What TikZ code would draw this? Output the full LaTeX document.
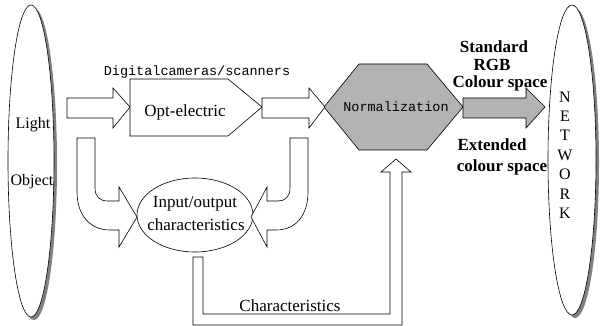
\documentclass[tikz,border=0pt]{standalone}
\usepackage{fontspec}
\setmainfont{Liberation Serif}
\setmonofont{Liberation Mono}
\definecolor{boxgray}{HTML}{B3B3B3}
\definecolor{shadowgray}{HTML}{808080}
\tikzset{
  shapeline/.style={draw=black, line width=0.6pt, line join=miter},
  hollow/.style={shapeline, fill=white},
  grayfill/.style={shapeline, fill=boxgray},
  lbl/.style={inner sep=0pt, font=\fontsize{17}{19}\selectfont},
  sidelbl/.style={inner sep=0pt, font=\fontsize{16}{18}\selectfont},
  monolbl/.style={inner sep=0pt, font=\ttfamily\fontsize{13.5}{15}\selectfont},
  boldlbl/.style={inner sep=0pt, font=\bfseries\fontsize{17}{18}\selectfont},
}
\begin{document}
\begin{tikzpicture}[x=1pt,y=-1pt]
\useasboundingbox (0,0) rectangle (605,326);
% left ellipse (Light / Object)
\fill[shadowgray] (34,164) ellipse (23 and 156);
\draw[hollow] (31,161) ellipse (23 and 156);
\node[sidelbl] (light) at (33,125) {Light};
\node[sidelbl] (object) at (32,182) {Object};
% right ellipse (NETWORK)
\fill[shadowgray] (575,163) ellipse (24 and 155);
\draw[hollow] (572,160) ellipse (24 and 155);
\node[lbl, align=center, font=\fontsize{16}{19.4}\selectfont] (network) at (565,155) {N\\E\\T\\W\\O\\R\\K};
% arrow light -> opt-electric
\draw[hollow] (67,98) -- (113,98) -- (113,88) -- (130,107) -- (113,128) -- (113,118) -- (67,118) -- cycle;
% opt-electric box
\draw[hollow] (130,79) -- (228,79) -- (262,107) -- (228,136) -- (130,136) -- cycle;
\node[lbl] (opt) at (185,112) {Opt-electric};
\node[monolbl] (cams) at (197,72) {Digitalcameras/scanners};
% arrow opt -> normalization
\draw[hollow] (262,98) -- (309,98) -- (309,88) -- (325,107) -- (309,128) -- (309,118) -- (262,118) -- cycle;
% normalization hexagon
\draw[grayfill] (324,107) -- (359,64) -- (427,64) -- (463,107) -- (427,150) -- (359,150) -- cycle;
\node[monolbl] (norm) at (396,107) {Normalization};
% arrow normalization -> network
\draw[grayfill] (463,98) -- (526,98) -- (526,88) -- (545,107) -- (526,128) -- (526,118) -- (463,118) -- cycle;
\node[boldlbl] (std) at (494,47) {Standard};
\node[boldlbl] (rgb) at (492,65) {RGB};
\node[boldlbl] (cs) at (500,83) {Colour space};
\node[boldlbl] (ext) at (492,145) {Extended};
\node[boldlbl] (ecs) at (502,167) {colour space};
% input/output ellipse
\draw[hollow] (195,215) ellipse (58 and 37);
\node[lbl] (io1) at (195,204) {Input/output};
\node[lbl] (io2) at (196,225) {characteristics};
% left curved arrow
\draw[hollow] (77,138) -- (95,138) -- (95,188) .. controls (95,197) and (100,201) .. (108,201) -- (119,201) -- (119,187) -- (137,217) -- (119,247) -- (119,230) -- (110,230) .. controls (90,230) and (77,215) .. (77,192) -- cycle;
% right curved arrow
\draw[hollow] (308,138) -- (290,138) -- (290,188) .. controls (290,197) and (285,201) .. (278,201) -- (267,201) -- (267,187) -- (251,217) -- (267,247) -- (267,230) -- (276,230) .. controls (296,230) and (308,215) .. (308,192) -- cycle;
% characteristics arrow
\draw[hollow] (193,257) -- (203,257) -- (203,314) -- (390,314) -- (390,172) -- (381,172) -- (396,159) -- (411,172) -- (402,172) -- (402,325) -- (193,325) -- cycle;
\node[lbl] (chr) at (290,306) {Characteristics};
\end{tikzpicture}
\end{document}
